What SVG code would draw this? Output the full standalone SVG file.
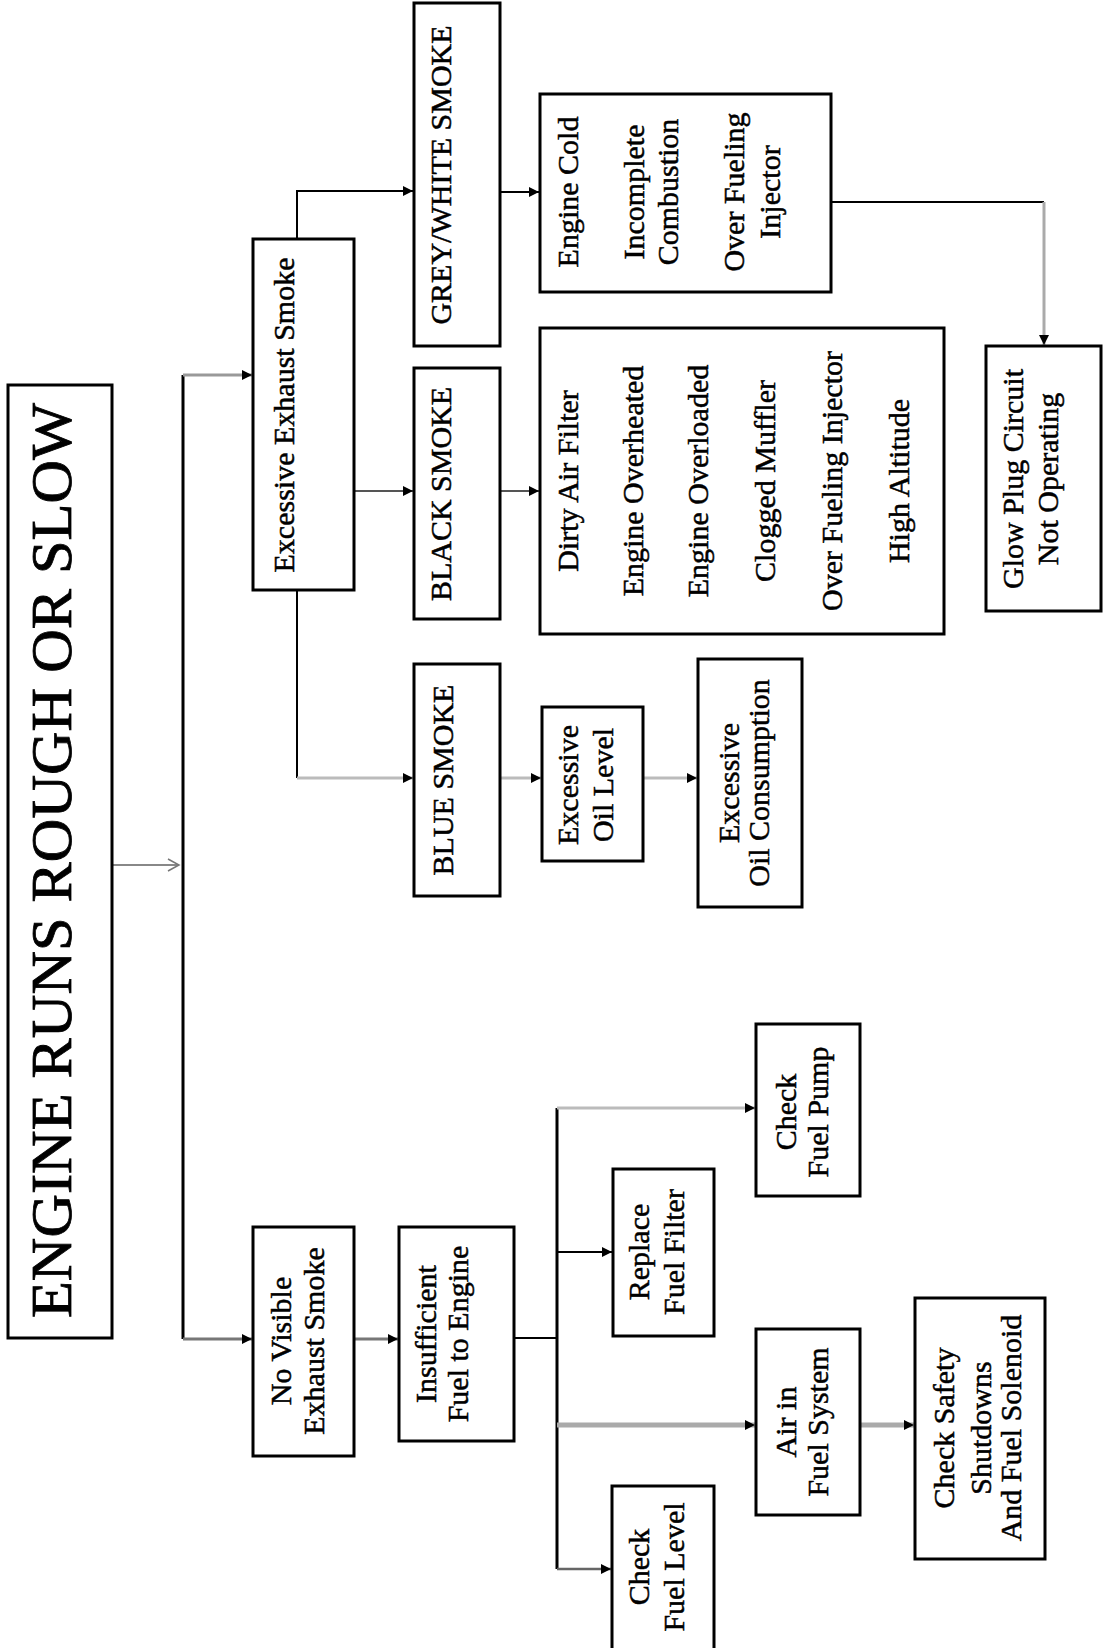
<svg xmlns="http://www.w3.org/2000/svg" width="1103" height="1648" viewBox="0 0 1103 1648">
<defs>
<style>
.box{fill:#fff;stroke:#000;stroke-width:3}
.t{font-family:"Liberation Serif","Times New Roman",serif;font-size:30px;fill:#000;stroke:#000;stroke-width:0.5;text-anchor:middle;dominant-baseline:central}
.title{font-size:58px;stroke-width:0.8}
.c{fill:none}
</style>
<marker id="arr" markerUnits="userSpaceOnUse" markerWidth="11" markerHeight="10" refX="10" refY="5" orient="auto">
<path d="M0,0 L10,5 L0,10 z" fill="#000"/>
</marker>
<marker id="open" markerUnits="userSpaceOnUse" markerWidth="14" markerHeight="14" refX="12" refY="7" orient="auto">
<path d="M1,1 L12,7 L1,13" fill="none" stroke="#777" stroke-width="1.5"/>
</marker>
</defs>
<rect width="1103" height="1648" fill="#fff"/>

<g id="connectors" class="c">
<path d="M112,865 H179" stroke="#888" stroke-width="2" marker-end="url(#open)"/>
<path d="M183,375 V1339" stroke="#000" stroke-width="3"/>
<path d="M183,375 H252" stroke="#999" stroke-width="3" marker-end="url(#arr)"/>
<path d="M183,1339 H252" stroke="#777" stroke-width="3" marker-end="url(#arr)"/>
<path d="M297,239 V191 H413" stroke="#000" stroke-width="2" marker-end="url(#arr)"/>
<path d="M354,491 H413" stroke="#555" stroke-width="2" marker-end="url(#arr)"/>
<path d="M297,590 V778" stroke="#000" stroke-width="2"/>
<path d="M297,778 H413" stroke="#bbb" stroke-width="3" marker-end="url(#arr)"/>
<path d="M500,192 H539" stroke="#000" stroke-width="2" marker-end="url(#arr)"/>
<path d="M500,491 H539" stroke="#555" stroke-width="2" marker-end="url(#arr)"/>
<path d="M500,778 H541" stroke="#bbb" stroke-width="3" marker-end="url(#arr)"/>
<path d="M643,778 H697" stroke="#bbb" stroke-width="3" marker-end="url(#arr)"/>
<path d="M831,202 H1044" stroke="#000" stroke-width="2"/>
<path d="M1044,202 V345" stroke="#aaa" stroke-width="3" marker-end="url(#arr)"/>
<path d="M354,1339 H398" stroke="#777" stroke-width="3" marker-end="url(#arr)"/>
<path d="M514,1338 H557" stroke="#000" stroke-width="2"/>
<path d="M557,1108 V1569" stroke="#000" stroke-width="3"/>
<path d="M557,1108 H755" stroke="#bbb" stroke-width="3" marker-end="url(#arr)"/>
<path d="M557,1252 H612" stroke="#000" stroke-width="2" marker-end="url(#arr)"/>
<path d="M557,1425 H755" stroke="#aaa" stroke-width="5" marker-end="url(#arr)"/>
<path d="M860,1425 H914" stroke="#aaa" stroke-width="5" marker-end="url(#arr)"/>
<path d="M557,1569 H611" stroke="#666" stroke-width="2.5" marker-end="url(#arr)"/>
</g>

<g id="title">
<rect class="box" x="8" y="385" width="104" height="953"/>
<text class="t title" transform="translate(51.5,860.5) rotate(-90)" textLength="915" lengthAdjust="spacingAndGlyphs">ENGINE RUNS ROUGH OR SLOW</text>
</g>

<g id="excessive">
<rect class="box" x="253" y="239" width="101" height="351"/>
<text class="t" transform="translate(283,415) rotate(-90)">Excessive Exhaust Smoke</text>
</g>

<g id="greywhite">
<rect class="box" x="414" y="3" width="86" height="343"/>
<text class="t" transform="translate(440,175) rotate(-90)">GREY/WHITE SMOKE</text>
</g>

<g id="blacksmoke">
<rect class="box" x="414" y="368" width="86" height="251"/>
<text class="t" transform="translate(440,494) rotate(-90)">BLACK SMOKE</text>
</g>

<g id="bluesmoke">
<rect class="box" x="414" y="664" width="86" height="232"/>
<text class="t" transform="translate(442,780) rotate(-90)">BLUE SMOKE</text>
</g>

<g id="oillevel">
<rect class="box" x="542" y="707" width="101" height="154"/>
<text class="t" transform="translate(567,785) rotate(-90)">Excessive</text>
<text class="t" transform="translate(602,785) rotate(-90)">Oil Level</text>
</g>

<g id="oilconsumption">
<rect class="box" x="698" y="659" width="104" height="248"/>
<text class="t" transform="translate(728,783) rotate(-90)">Excessive</text>
<text class="t" transform="translate(758,783) rotate(-90)">Oil Consumption</text>
</g>

<g id="greycauses">
<rect class="box" x="540" y="94" width="291" height="198"/>
<text class="t" transform="translate(567,192) rotate(-90)">Engine Cold</text>
<text class="t" transform="translate(633,192) rotate(-90)">Incomplete</text>
<text class="t" transform="translate(667,192) rotate(-90)">Combustion</text>
<text class="t" transform="translate(733,192) rotate(-90)">Over Fueling</text>
<text class="t" transform="translate(769,192) rotate(-90)">Injector</text>
</g>

<g id="blackcauses">
<rect class="box" x="540" y="328" width="404" height="306"/>
<text class="t" transform="translate(567,481) rotate(-90)">Dirty Air Filter</text>
<text class="t" transform="translate(632,481) rotate(-90)">Engine Overheated</text>
<text class="t" transform="translate(697,481) rotate(-90)">Engine Overloaded</text>
<text class="t" transform="translate(764,481) rotate(-90)">Clogged Muffler</text>
<text class="t" transform="translate(831,481) rotate(-90)">Over Fueling Injector</text>
<text class="t" transform="translate(898,481) rotate(-90)">High Altitude</text>
</g>

<g id="glowplug">
<rect class="box" x="986" y="346" width="115" height="265"/>
<text class="t" transform="translate(1012,479) rotate(-90)">Glow Plug Circuit</text>
<text class="t" transform="translate(1047,479) rotate(-90)">Not Operating</text>
</g>

<g id="novisible">
<rect class="box" x="253" y="1227" width="101" height="229"/>
<text class="t" transform="translate(280,1341) rotate(-90)">No Visible</text>
<text class="t" transform="translate(313,1341) rotate(-90)">Exhaust Smoke</text>
</g>

<g id="insufficient">
<rect class="box" x="399" y="1227" width="115" height="214"/>
<text class="t" transform="translate(425,1334) rotate(-90)">Insufficient</text>
<text class="t" transform="translate(457,1334) rotate(-90)">Fuel to Engine</text>
</g>

<g id="fuelpump">
<rect class="box" x="756" y="1024" width="104" height="172"/>
<text class="t" transform="translate(785,1112) rotate(-90)">Check</text>
<text class="t" transform="translate(817,1112) rotate(-90)">Fuel Pump</text>
</g>

<g id="fuelfilter">
<rect class="box" x="613" y="1169" width="101" height="167"/>
<text class="t" transform="translate(638,1252) rotate(-90)">Replace</text>
<text class="t" transform="translate(673,1252) rotate(-90)">Fuel Filter</text>
</g>

<g id="airinfuel">
<rect class="box" x="756" y="1329" width="104" height="186"/>
<text class="t" transform="translate(785,1422) rotate(-90)">Air in</text>
<text class="t" transform="translate(817,1422) rotate(-90)">Fuel System</text>
</g>

<g id="safety">
<rect class="box" x="915" y="1298" width="130" height="261"/>
<text class="t" transform="translate(943,1428) rotate(-90)">Check Safety</text>
<text class="t" transform="translate(980,1428) rotate(-90)">Shutdowns</text>
<text class="t" transform="translate(1010,1428) rotate(-90)">And Fuel Solenoid</text>
</g>

<g id="fuellevel">
<rect class="box" x="612" y="1486" width="102" height="170"/>
<text class="t" transform="translate(638,1567) rotate(-90)">Check</text>
<text class="t" transform="translate(673,1567) rotate(-90)">Fuel Level</text>
</g>
</svg>
